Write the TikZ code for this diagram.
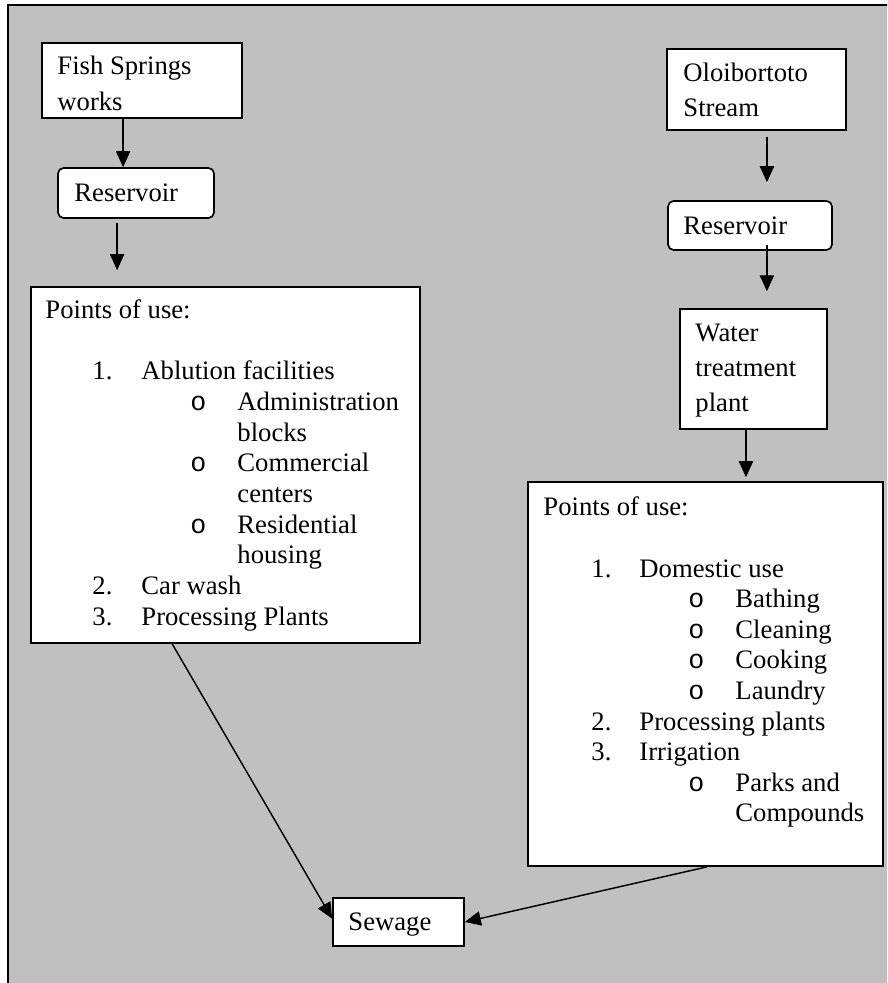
\documentclass[tikz,border=0pt]{standalone}
\usepackage{fontspec}
\setmainfont{Liberation Serif}
\newfontfamily\bulletfont{Liberation Mono}
\usetikzlibrary{arrows.meta, fit}
\definecolor{bggray}{RGB}{192,192,192}

\begin{document}
\begin{tikzpicture}[x=0.45pt, y=-0.45pt,
    box/.style={draw, fill=white, line width=0.75pt, inner sep=0pt},
    roundbox/.style={box, rounded corners=2.5pt},
    txt/.style={anchor=base west, inner sep=0pt, font=\fontsize{12}{14}\selectfont},
    bul/.style={txt, font=\fontsize{12}{14}\bulletfont},
    arr/.style={-{Triangle[length=7.2pt, width=6.4pt]}, line width=0.65pt}]
			\clip (0,0) rectangle (887,983);
			% Gray page with frame on the left and top
			\fill[bggray] (8,5) rectangle (900,1000);
			\draw[line width=1pt] (8,1000) -- (8,5) -- (900,5);

			% Boxes on the left
			\node[box, fit={(42,43) (242,118)}] (fish) {};
			\node[roundbox, fit={(58,168) (214,218)}] (resL) {};
			\node[box, fit={(31,287) (420,643)}] (useL) {};

			% Boxes on the right
			\node[box, fit={(667,49) (846,130)}] (olo) {};
			\node[roundbox, fit={(668,201) (832,250)}] (resR) {};
			\node[box, fit={(680,309) (827,429)}] (wtp) {};
			\node[box, fit={(528,482) (883,866)}] (useR) {};

			% Sewage at the bottom
			\node[box, fit={(333,898) (464,946)}] (sewage) {};

			% Texts of the small boxes
			\node[txt] (fishA) at (57,75) {Fish Springs};
			\node[txt] (fishB) at (57,111) {works};
			\node[txt] (resLtxt) at (74,202) {Reservoir};
			\node[txt] (oloA) at (683,82) {Oloibortoto};
			\node[txt] (oloB) at (683,117) {Stream};
			\node[txt] (resRtxt) at (683,235) {Reservoir};
			\node[txt] (wtpA) at (695,342) {Water};
			\node[txt] (wtpB) at (695,377) {treatment};
			\node[txt] (wtpC) at (695,412) {plant};
			\node[txt] (sewtxt) at (348,930) {Sewage};

			% Points of use on the left
			\node[txt] (headL) at (45,319) {Points of use:};
			\foreach \n/\k in {1./0, 2./7, 3./8}
			\node[txt] (numL\k) at (92,{380+30.65*\k}) {\n};
			\foreach \t/\k in {Ablution facilities/0, Car wash/7, Processing Plants/8}
			\node[txt] (itemL\k) at (141,{380+30.65*\k}) {\t};
			\foreach \k in {1,3,5}
			\node[bul] (bulL\k) at (190,{380+30.65*\k}) {o};
			\foreach \t/\k in {Administration/1, blocks/2, Commercial/3, centers/4, Residential/5, housing/6}
			\node[txt] (subL\k) at (237,{380+30.65*\k}) {\t};

			% Points of use on the right
			\node[txt] (headR) at (543,515) {Points of use:};
			\foreach \n/\k in {1./0, 2./5, 3./6}
			\node[txt] (numR\k) at (591,{577+30.6*\k}) {\n};
			\foreach \t/\k in {Domestic use/0, Processing plants/5, Irrigation/6}
			\node[txt] (itemR\k) at (639,{577+30.6*\k}) {\t};
			\foreach \k in {1,2,3,4,7}
			\node[bul] (bulR\k) at (688,{577+30.6*\k}) {o};
			\foreach \t/\k in {Bathing/1, Cleaning/2, Cooking/3, Laundry/4, Parks and/7, Compounds/8}
			\node[txt] (subR\k) at (735,{577+30.6*\k}) {\t};

			% Flow on the left
			\draw[arr] ([xshift=-8.5pt]fish.south) -- ([xshift=-8.5pt]fish.south |- resL.north);
			\draw[arr] ([xshift=-8.5pt, yshift=-1.8pt]resL.south) -- ([xshift=-8.5pt, yshift=7.2pt]resL.south |- useL.north);

			% Flow on the right
			\draw[arr] ([xshift=4.7pt, yshift=-2.7pt]olo.south) -- ([xshift=4.7pt, yshift=8.1pt]olo.south |- resR.north);
			\draw[arr] ([xshift=7.6pt, yshift=2.7pt]resR.south) -- ([xshift=7.6pt, yshift=7.6pt]resR.south |- wtp.north);
			\draw[arr] ([xshift=-3.4pt]wtp.south) -- ([xshift=-3.4pt, yshift=1.8pt]wtp.south |- useR.north);

			% Both ends run into the sewage
			\draw[arr] ([xshift=-24pt]useL.south) -- ([yshift=1.5pt]sewage.west);
			\draw[arr] ([xshift=0.7pt]useR.south) -- (sewage.east);
		\end{tikzpicture}
\end{document}
